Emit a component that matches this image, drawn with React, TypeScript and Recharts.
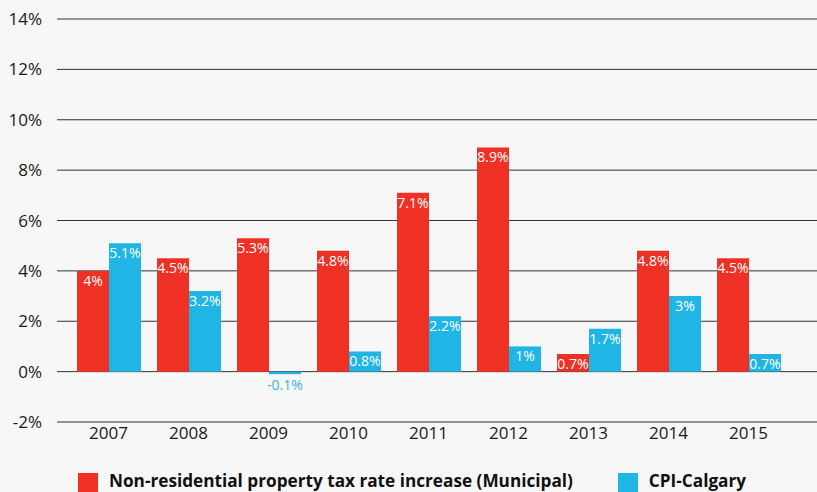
import React from 'react';
import { BarChart, Bar, XAxis, YAxis, CartesianGrid, LabelList, Legend } from 'recharts';

const years = ['2007', '2008', '2009', '2010', '2011', '2012', '2013', '2014', '2015'];
const taxRate = [4, 4.5, 5.3, 4.8, 7.1, 8.9, 0.7, 4.8, 4.5];
const cpi = [5.1, 3.2, -0.1, 0.8, 2.2, 1, 1.7, 3, 0.7];
const yTicks = [-2, 0, 2, 4, 6, 8, 10, 12, 14];

const RED = '#ef3125';
const BLUE = '#1fb5e5';
const FONT = '"Open Sans", "Noto Sans", sans-serif';

const data = years.map((year, i) => ({ year, tax: taxRate[i], cpi: cpi[i] }));

const seriesNames = [
  { key: 'tax', label: 'Non-residential property tax rate increase (Municipal)', color: RED },
  { key: 'cpi', label: 'CPI-Calgary', color: BLUE },
];

const BarLabel = (props: any) => {
  const { x, y, width, height, value } = props;
  const top = Math.min(y, y + height);
  const bottom = Math.max(y, y + height);
  const cx = x + width / 2;
  if (value < 0) {
    return (
      <text x={cx} y={bottom + 16} textAnchor="middle" fill="#37b5e6" fontSize={14} fontFamily={FONT}>
        {value}%
      </text>
    );
  }
  return (
    <text x={cx} y={top + 15} textAnchor="middle" fill="#ffffff" fontSize={14} fontFamily={FONT}>
      {value}%
    </text>
  );
};

const LegendContent = () => (
  <div style={{ display: 'flex', fontFamily: FONT, fontWeight: 700, fontSize: 17.2, lineHeight: 1, color: '#111' }}>
    {seriesNames.map((s, i) => (
      <div key={s.key} style={{ display: 'flex', alignItems: 'flex-start', marginRight: i === 0 ? 45 : 0 }}>
        <span style={{ width: 20, height: 20, background: s.color, marginTop: 1, marginRight: 11 }} />
        <span style={{ whiteSpace: 'nowrap' }}>{s.label}</span>
      </div>
    ))}
  </div>
);

export default function App() {
  return (
    <div style={{ position: 'absolute', left: 0, top: 0, width: 817, height: 492, background: '#f7f7f7', overflow: 'hidden' }}>
      <BarChart
        width={817}
        height={492}
        data={data}
        margin={{ top: 19, right: 0, left: 0, bottom: 0 }}
        barCategoryGap={8.5}
        barGap={0}
      >
        <CartesianGrid vertical={false} stroke="#333" />
        <XAxis
          dataKey="year"
          height={70}
          padding={{ left: 11.5, right: 28.5 }}
          axisLine={false}
          tickLine={false}
          tickSize={0}
          tickMargin={5}
          tick={{ fill: '#1a1a1a', fontSize: 17, fontFamily: FONT }}
        />
        <YAxis
          width={57}
          domain={[-2, 14]}
          ticks={yTicks}
          allowDataOverflow
          axisLine={false}
          tickLine={false}
          tickSize={0}
          tickMargin={15}
          tickFormatter={(v: number) => `${v}%`}
          tick={{ fill: '#1a1a1a', fontSize: 17, fontFamily: FONT }}
        />
        <Legend
          layout="horizontal"
          verticalAlign="middle"
          align="center"
          wrapperStyle={{ top: 472, left: 78, width: 720, height: 22 }}
          content={LegendContent}
        />
        <Bar dataKey="tax" name={seriesNames[0].label} fill={RED} isAnimationActive={false}>
          <LabelList dataKey="tax" content={BarLabel} />
        </Bar>
        <Bar dataKey="cpi" name={seriesNames[1].label} fill={BLUE} isAnimationActive={false}>
          <LabelList dataKey="cpi" content={BarLabel} />
        </Bar>
      </BarChart>
    </div>
  );
}
